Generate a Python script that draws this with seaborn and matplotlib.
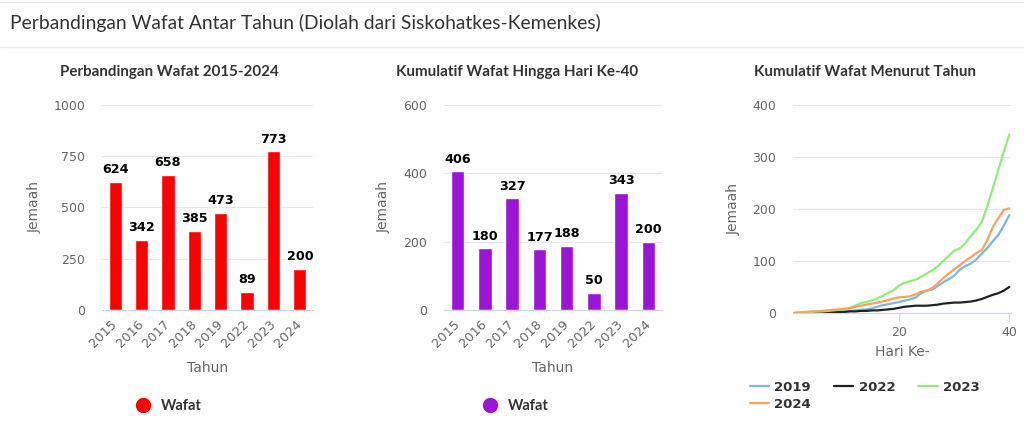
import matplotlib
matplotlib.use("Agg")
import matplotlib.pyplot as plt
import seaborn as sns
import pandas as pd
from matplotlib.lines import Line2D

# ---------------- data ----------------
years = ["2015", "2016", "2017", "2018", "2019", "2022", "2023", "2024"]
wafat_total = [624, 342, 658, 385, 473, 89, 773, 200]
wafat_day40 = [406, 180, 327, 177, 188, 50, 343, 200]

days = list(range(1, 41))
cum_2019 = [0, 0, 1, 1, 1, 2, 2, 2, 3, 3, 4, 5, 6, 7, 9, 12, 15, 17, 19, 21,
            24, 26, 30, 38, 43, 45, 52, 59, 65, 72, 83, 90, 95, 103, 114, 125, 138, 150, 168, 188]
cum_2022 = [0, 0, 0, 1, 1, 1, 1, 2, 2, 2, 3, 3, 4, 4, 5, 5, 6, 7, 8, 10,
            12, 13, 14, 14, 14, 15, 16, 18, 19, 20, 20, 21, 22, 24, 27, 31, 35, 38, 43, 50]
cum_2023 = [0, 1, 1, 2, 3, 3, 4, 5, 6, 8, 10, 14, 19, 21, 24, 28, 33, 39, 44, 53,
            58, 61, 64, 70, 76, 82, 90, 100, 110, 120, 124, 134, 148, 160, 175, 205, 240, 275, 310, 343]
cum_2024 = [0, 1, 2, 3, 3, 4, 5, 6, 7, 8, 9, 12, 14, 16, 18, 20, 22, 25, 28, 30,
            31, 32, 36, 41, 43, 48, 57, 67, 76, 84, 92, 100, 107, 115, 121, 140, 165, 182, 198, 201]
line_years = ["2019", "2022", "2023", "2024"]
line_colors = ["#7cb5ec", "#222222", "#90ed7d", "#f7a35c"]

# ---------------- style ----------------
sns.set_theme(style="white")
plt.rcParams["font.family"] = ["DejaVu Sans"]

W, H = 1024, 438
fig = plt.figure(figsize=(W / 100, H / 100), dpi=100)
fig.patch.set_facecolor("white")

def fx(px):
    return px / W

def fy(py):
    return 1 - py / H

GRID = "#e6e6e6"
AXIS = "#ccd6eb"
LABEL = "#666666"
TITLE = "#333333"

# header
fig.add_artist(Line2D([0, 1], [fy(1.5), fy(1.5)], color="#e8e8e8", lw=1))
fig.add_artist(Line2D([0, 1], [fy(47), fy(47)], color="#eeeeee", lw=1))
fig.text(fx(10), fy(23), "Perbandingan Wafat Antar Tahun (Diolah dari Siskohatkes-Kemenkes)",
         family="Lato", fontsize=13.9, color=TITLE, va="center", ha="left")


def style_axis(ax, ymax, step):
    ax.set_ylim(0, ymax)
    ax.set_yticks(list(range(0, ymax + 1, step)))
    ax.grid(axis="y", color=GRID, lw=0.8)
    ax.grid(axis="x", visible=False)
    ax.set_axisbelow(True)
    for s in ["top", "right", "left"]:
        ax.spines[s].set_visible(False)
    ax.spines["bottom"].set_color(AXIS)
    ax.spines["bottom"].set_linewidth(0.8)
    ax.tick_params(axis="y", length=0, pad=12, labelsize=9, labelcolor=LABEL)
    ax.set_facecolor("white")


def bar_panel(rect, values, color, ymax, step, title, tcx, lx, legx):
    ax = fig.add_axes(rect)
    df = pd.DataFrame({"Tahun": years, "Wafat": values})
    sns.barplot(data=df, x="Tahun", y="Wafat", color=color, width=0.5,
                saturation=1, ax=ax, order=years)
    ax.set_xlim(-0.5, len(years) - 0.5)
    style_axis(ax, ymax, step)
    ax.tick_params(axis="x", length=0, pad=9, labelsize=9.3, labelcolor=LABEL)
    for lab in ax.get_xticklabels():
        lab.set_rotation(45)
        lab.set_ha("right")
        lab.set_va("center")
        lab.set_rotation_mode("anchor")
    for c in ax.containers:
        ax.bar_label(c, padding=4, fontsize=9.2, fontweight="bold", color="black")
    ax.set_xlabel("Tahun", fontsize=10, color=LABEL, va="center")
    ax.xaxis.set_label_coords(0.5, -0.283)
    ax.set_ylabel("Jemaah", fontsize=10, color=LABEL, va="center")
    ax.yaxis.set_label_coords(lx, 0.5)
    fig.text(fx(tcx), fy(72), title, family="Lato", fontweight="bold",
             fontsize=10.9, color=TITLE, ha="center", va="center")
    h = Line2D([], [], marker="o", linestyle="", color=color, markersize=10)
    leg = ax.legend([h], ["Wafat"], loc="center left",
                    bbox_to_anchor=(fx(legx), fy(406)), bbox_transform=fig.transFigure,
                    frameon=False, handlelength=1, handletextpad=0.7,
                    borderpad=0, borderaxespad=0,
                    prop={"family": "Lato", "weight": "bold", "size": 10.5})
    for t in leg.get_texts():
        t.set_color(TITLE)
    return ax


bot = fy(310)
hgt = (310 - 104.7) / H
bar_panel([fx(102), bot, fx(313) - fx(102), hgt], wafat_total, "#ff0000", 1000, 250,
          "Perbandingan Wafat 2015-2024", 169, -0.3175, 136)
bar_panel([fx(444), bot, fx(662) - fx(444), hgt], wafat_day40, "#9c14d8", 600, 200,
          "Kumulatif Wafat Hingga Hari Ke-40", 517, -0.275, 483)

# line panel
ax3 = fig.add_axes([fx(793), fy(313), fx(1011) - fx(793), (313 - 104.7) / H])
series = {"2019": cum_2019, "2022": cum_2022, "2023": cum_2023, "2024": cum_2024}
long = pd.DataFrame([
    {"Hari": d, "Tahun": yr, "Jemaah": v}
    for yr in line_years for d, v in zip(days, series[yr])
])
sns.lineplot(data=long, x="Hari", y="Jemaah", hue="Tahun", hue_order=line_years,
             palette=dict(zip(line_years, line_colors)), lw=1.6, ax=ax3)
ax3.set_xlim(0.7, 40.3)
style_axis(ax3, 400, 100)
ax3.set_xticks([20, 40])
ax3.tick_params(axis="x", length=6, width=0.8, color=AXIS, pad=3,
                labelsize=9, labelcolor=LABEL, bottom=True)
ax3.set_xlabel("Hari Ke-", fontsize=10, color=LABEL, va="center")
ax3.xaxis.set_label_coords(0.5, -(352 - 313) / (313 - 104.7))
ax3.set_ylabel("Jemaah", fontsize=10, color=LABEL, va="center")
ax3.yaxis.set_label_coords(-0.27, 0.5)
fig.text(fx(865), fy(72), "Kumulatif Wafat Menurut Tahun", family="Lato",
         fontweight="bold", fontsize=10.9, color=TITLE, ha="center", va="center")
handles, labels = ax3.get_legend_handles_labels()
hmap = dict(zip(labels, handles))
order = ["2019", "2024", "2022", "2023"]  # column-major fill -> row-major appearance
leg3 = ax3.legend([hmap[k] for k in order], order, loc="upper left", ncol=3,
                  bbox_to_anchor=(fx(750), fy(381)), bbox_transform=fig.transFigure,
                  frameon=False, handlelength=1.45, handletextpad=0.4,
                  columnspacing=1.75, labelspacing=0.28, borderpad=0, borderaxespad=0,
                  prop={"weight": "bold", "size": 9.5})
for t in leg3.get_texts():
    t.set_color(TITLE)

fig.savefig("out.png", dpi=100, facecolor="white")
